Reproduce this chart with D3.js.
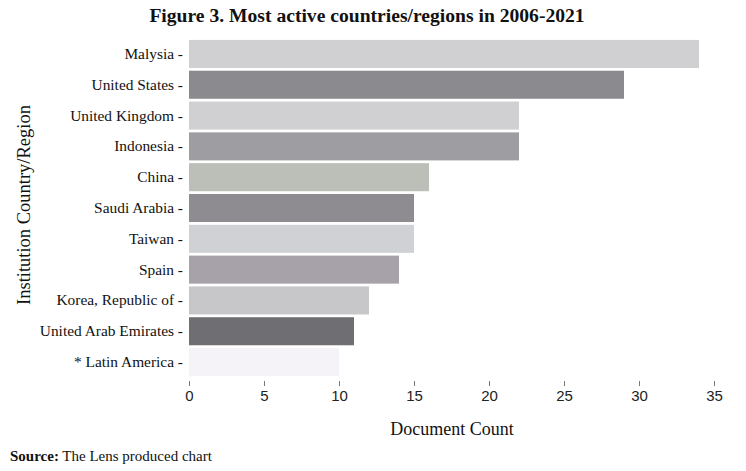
<!DOCTYPE html>
<html><head><meta charset="utf-8">
<script src="https://cdn.jsdelivr.net/npm/d3@7"></script>
<style>
html,body{margin:0;padding:0;background:#fff;}
svg{display:block;}
</style></head>
<body>
<svg id="chart" width="746" height="471"></svg>
<script>
const categories = ["Malysia","United States","United Kingdom","Indonesia","China","Saudi Arabia","Taiwan","Spain","Korea, Republic of","United Arab Emirates","* Latin America"];
const counts = [34,29,22,22,16,15,15,14,12,11,10];
const barColors = ["#d0d0d2","#8b8a8e","#d0d0d2","#9e9da1","#bbbfb8","#8e8c90","#d0d1d4","#a7a2aa","#c7c6c8","#6f6e72","#f5f2f8"];
const xTicks = [0,5,10,15,20,25,30,35];

const svg = d3.select("#chart");
const serif = "'Liberation Serif','Times New Roman',serif";

const x = d3.scaleLinear().domain([0,35]).range([189,714]);
const y = d3.scaleBand().domain(categories).range([39,377]).paddingInner(0.09).paddingOuter(0.03);

svg.append("text").attr("x",367).attr("y",22).attr("text-anchor","middle")
  .attr("font-family",serif).attr("font-weight","bold").attr("font-size","19.6px").attr("fill","#111")
  .text("Figure 3. Most active countries/regions in 2006-2021");

svg.append("g").selectAll("rect").data(categories).join("rect")
  .attr("x",x(0)).attr("y",d=>y(d))
  .attr("width",(d,i)=>x(counts[i])-x(0)).attr("height",y.bandwidth())
  .attr("fill",(d,i)=>barColors[i]);

// y axis labels
const yAxis = d3.axisLeft(y).tickSize(0).tickPadding(6).tickFormat(d=>d+" -");
const gy = svg.append("g").attr("transform","translate(189,0)").call(yAxis);
gy.select(".domain").remove();
gy.selectAll("text").attr("font-family",serif).attr("font-size","15.4px").attr("fill","#111");

// x axis
const xAxis = d3.axisBottom(x).tickValues(xTicks).tickSize(5).tickPadding(4);
const gx = svg.append("g").attr("transform","translate(0,381)").call(xAxis);
gx.select(".domain").remove();
gx.selectAll("line").attr("stroke","#777");
gx.selectAll("text").attr("font-family","'Liberation Sans Narrow','Liberation Sans',sans-serif").attr("font-size","15px").attr("fill","#222");

svg.append("text").attr("x",452).attr("y",435).attr("text-anchor","middle")
  .attr("font-family",serif).attr("font-size","18px").attr("fill","#111").text("Document Count");

svg.append("text").attr("transform","translate(30,205) rotate(-90)").attr("text-anchor","middle")
  .attr("font-family",serif).attr("font-size","18.5px").attr("fill","#111").text("Institution Country/Region");

const src = svg.append("text").attr("x",10).attr("y",461).attr("font-family",serif).attr("font-size","15px").attr("fill","#111");
src.append("tspan").attr("font-weight","bold").text("Source:");
src.append("tspan").text(" The Lens produced chart");
</script>
</body></html>
